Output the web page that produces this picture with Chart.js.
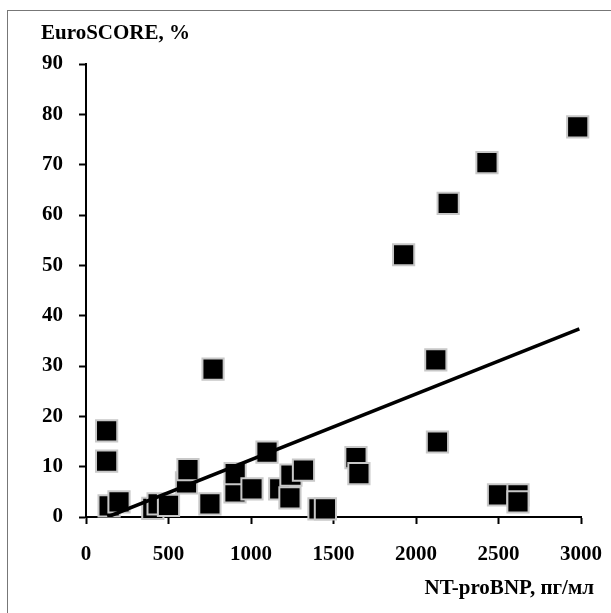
<!DOCTYPE html>
<html>
<head>
<meta charset="utf-8">
<script src="https://cdn.jsdelivr.net/npm/chart.js@4/dist/chart.umd.min.js"></script>
<style>
  body { margin: 0; background: #fff; }
  #wrap { position: relative; width: 611px; height: 613px; }
  #frame { position: absolute; left: 7px; top: 10px; right: 0; bottom: 0; border-left: 1px solid #777; border-top: 1px solid #777; }
</style>
</head>
<body>
<div id="wrap">
  <div id="frame"></div>
  <canvas id="chart" width="611" height="613" style="position:absolute;left:0;top:0"></canvas>
</div>
<script>
// NT-proBNP (pg/ml) vs EuroSCORE (%)
const bnp = [2980, 2430, 2195, 1925, 770, 2120, 2130, 125, 125, 140, 200, 405, 437, 500,
  609, 618, 751, 903, 904, 1006, 1097, 1174, 1242, 1318, 1236, 1412, 1451, 1636, 1654, 2500, 2618, 2618];
const euroscore = [77.5, 70.4, 62.3, 52.1, 29.4, 31.2, 14.9, 17.1, 11.1, 2.2, 3.0, 1.7, 2.6, 2.3,
  6.8, 9.4, 2.6, 5.0, 8.6, 5.6, 12.9, 5.6, 8.3, 9.3, 3.8, 1.6, 1.6, 11.8, 8.6, 4.4, 4.4, 3.0];

// regression line end points
const trendX = [130, 2990];
const trendY = [0, 37.4];

const xTicks = [0, 500, 1000, 1500, 2000, 2500, 3000];
const yTicks = [0, 10, 20, 30, 40, 50, 60, 70, 80, 90];

const serif = '"Liberation Serif", "Times New Roman", serif';

const axisTitles = {
  id: 'axisTitles',
  afterDraw(chart) {
    const c = chart.ctx;
    c.save();
    c.fillStyle = '#000';
    c.font = 'bold 21px ' + serif;
    c.textBaseline = 'alphabetic';
    c.textAlign = 'left';
    c.fillText('EuroSCORE, %', 41, 39);
    c.textAlign = 'right';
    c.fillText('NT-proBNP, пг/мл', 594, 594);
    c.restore();
  }
};

new Chart(document.getElementById('chart'), {
  type: 'scatter',
  data: {
    datasets: [{
      data: bnp.map((x, i) => ({ x: x, y: euroscore[i] })),
      pointStyle: 'rect',
      pointRadius: 15,
      pointHoverRadius: 15,
      backgroundColor: '#000',
      borderColor: '#c8c8c8',
      borderWidth: 2,
      clip: false,
      order: 2
    }, {
      type: 'line',
      data: trendX.map((x, i) => ({ x: x, y: trendY[i] })),
      borderColor: '#000',
      borderWidth: 3.5,
      pointRadius: 0,
      fill: false,
      order: 1
    }]
  },
  options: {
    responsive: false,
    animation: false,
    layout: { padding: { top: 64, right: 30, left: 0, bottom: 0 } },
    plugins: {
      legend: { display: false },
      tooltip: { enabled: false }
    },
    scales: {
      x: {
        type: 'linear',
        min: 0,
        max: 3000,
        afterBuildTicks: (s) => { s.ticks = xTicks.map(v => ({ value: v })); },
        afterFit: (s) => { s.height = 96; s.paddingLeft = 0; s.paddingRight = 0; },
        ticks: {
          color: '#000',
          padding: 18,
          callback: (v) => String(v),
          font: { family: serif, size: 21, weight: 'bold' }
        },
        grid: { drawOnChartArea: false, drawTicks: true, tickLength: 7, tickWidth: 2, tickColor: '#000' },
        border: { color: '#000', width: 2 }
      },
      y: {
        min: 0,
        max: 90,
        afterBuildTicks: (s) => { s.ticks = yTicks.map(v => ({ value: v })); },
        afterFit: (s) => { s.width = 86; s.paddingTop = 0; s.paddingBottom = 0; },
        ticks: {
          color: '#000',
          padding: 16,
          callback: (v) => String(v),
          font: { family: serif, size: 21, weight: 'bold' }
        },
        grid: { drawOnChartArea: false, drawTicks: true, tickLength: 7, tickWidth: 2, tickColor: '#000' },
        border: { color: '#000', width: 2 }
      }
    }
  },
  plugins: [axisTitles]
});
</script>
</body>
</html>
